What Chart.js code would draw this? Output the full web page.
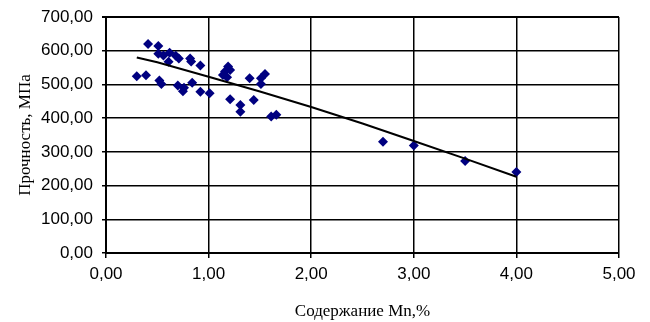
<!DOCTYPE html>
<html>
<head>
<meta charset="utf-8">
<script src="https://cdn.jsdelivr.net/npm/chart.js@4/dist/chart.umd.min.js"></script>
<style>
  html, body { margin: 0; padding: 0; background: #fff; }
  #wrap { width: 650px; height: 322px; }
</style>
</head>
<body>
<div id="wrap"><canvas id="c" width="650" height="322"></canvas></div>
<script>
// Mn content, % (x) and strength, MPa (y) for each sample
const mnContent = [
  0.30, 0.39, 0.41, 0.51, 0.51, 0.56, 0.62, 0.61, 0.68, 0.71,
  0.82, 0.83, 0.92, 0.52, 0.54, 0.70, 0.76, 0.75, 0.84, 0.92,
  1.01, 1.19, 1.16, 1.21, 1.14, 1.18, 1.21, 1.31, 1.31, 1.40,
  1.44, 1.51, 1.51, 1.55, 1.61, 1.66, 2.70, 3.00, 3.50, 4.00
];
const strength = [
  524, 527, 620, 614, 591, 586, 594, 567, 585, 577,
  577, 568, 556, 512, 501, 497, 490, 480, 505, 478,
  474, 553, 538, 543, 528, 521, 456, 439, 419, 518,
  454, 501, 518, 531, 405, 410, 330, 319, 273, 240
];

// Trend line through the cloud
const trendX = [0.30, 0.50, 1.00, 1.50, 2.00, 2.50, 3.00, 3.50, 4.00];
const trendY = [580, 566, 523, 479, 433, 384, 332, 280, 226];

// Axis tick labels (decimal comma)
const xTickLabels = ['0,00', '1,00', '2,00', '3,00', '4,00', '5,00'];
const yTickLabels = ['0,00', '100,00', '200,00', '300,00', '400,00', '500,00', '600,00', '700,00'];

const sansFont = { family: "'Liberation Sans', Arial, sans-serif", size: 17 };
const serifFont = { family: "'Liberation Serif', 'Times New Roman', serif", size: 17 };

const samples = mnContent.map((x, i) => ({ x: x, y: strength[i] }));
const trend = trendX.map((x, i) => ({ x: x, y: trendY[i] }));

new Chart(document.getElementById('c'), {
  type: 'scatter',
  data: {
    datasets: [
      {
        type: 'line',
        data: trend,
        borderColor: '#000',
        borderWidth: 2,
        pointRadius: 0,
        fill: false,
        tension: 0,
        order: 0
      },
      {
        data: samples,
        pointStyle: 'rectRot',
        pointRadius: 5,
        backgroundColor: '#000080',
        borderColor: '#000080',
        borderWidth: 0,
        order: 1
      }
    ]
  },
  options: {
    responsive: false,
    animation: false,
    layout: { padding: { left: 0, right: 31, top: 17, bottom: 0 } },
    plugins: { legend: { display: false }, tooltip: { enabled: false } },
    scales: {
      x: {
        type: 'linear',
        position: 'bottom',
        min: 0,
        max: 5,
        ticks: {
          stepSize: 1,
          autoSkip: false,
          maxRotation: 0,
          padding: 6,
          color: '#000',
          font: sansFont,
          callback: (v) => xTickLabels[Math.round(v)]
        },
        grid: {
          display: true,
          drawOnChartArea: true,
          drawTicks: true,
          color: '#000',
          lineWidth: 1.5,
          tickLength: 5
        },
        border: { display: true, color: '#000', width: 2 },
        title: {
          display: true,
          text: 'Содержание Mn,%',
          color: '#000',
          font: serifFont,
          padding: { top: 2, bottom: 0 }
        },
        afterFit: (s) => { s.height = 69; s.paddingLeft = 0; s.paddingRight = 0; }
      },
      y: {
        type: 'linear',
        position: 'left',
        min: 0,
        max: 700,
        ticks: {
          stepSize: 100,
          padding: 9,
          color: '#000',
          font: sansFont,
          callback: (v) => yTickLabels[Math.round(v / 100)]
        },
        grid: {
          color: '#000',
          lineWidth: (ctx) => (ctx.tick && ctx.tick.value === 700 ? 2 : 1.5),
          tickLength: 4
        },
        border: { display: true, color: '#000', width: 2 },
        title: {
          display: true,
          text: 'Прочность, МПа',
          color: '#000',
          font: serifFont,
          padding: { top: 15, bottom: 0 }
        },
        afterFit: (s) => { s.width = 106; s.paddingTop = 0; s.paddingBottom = 0; }
      }
    }
  }
});
</script>
</body>
</html>
